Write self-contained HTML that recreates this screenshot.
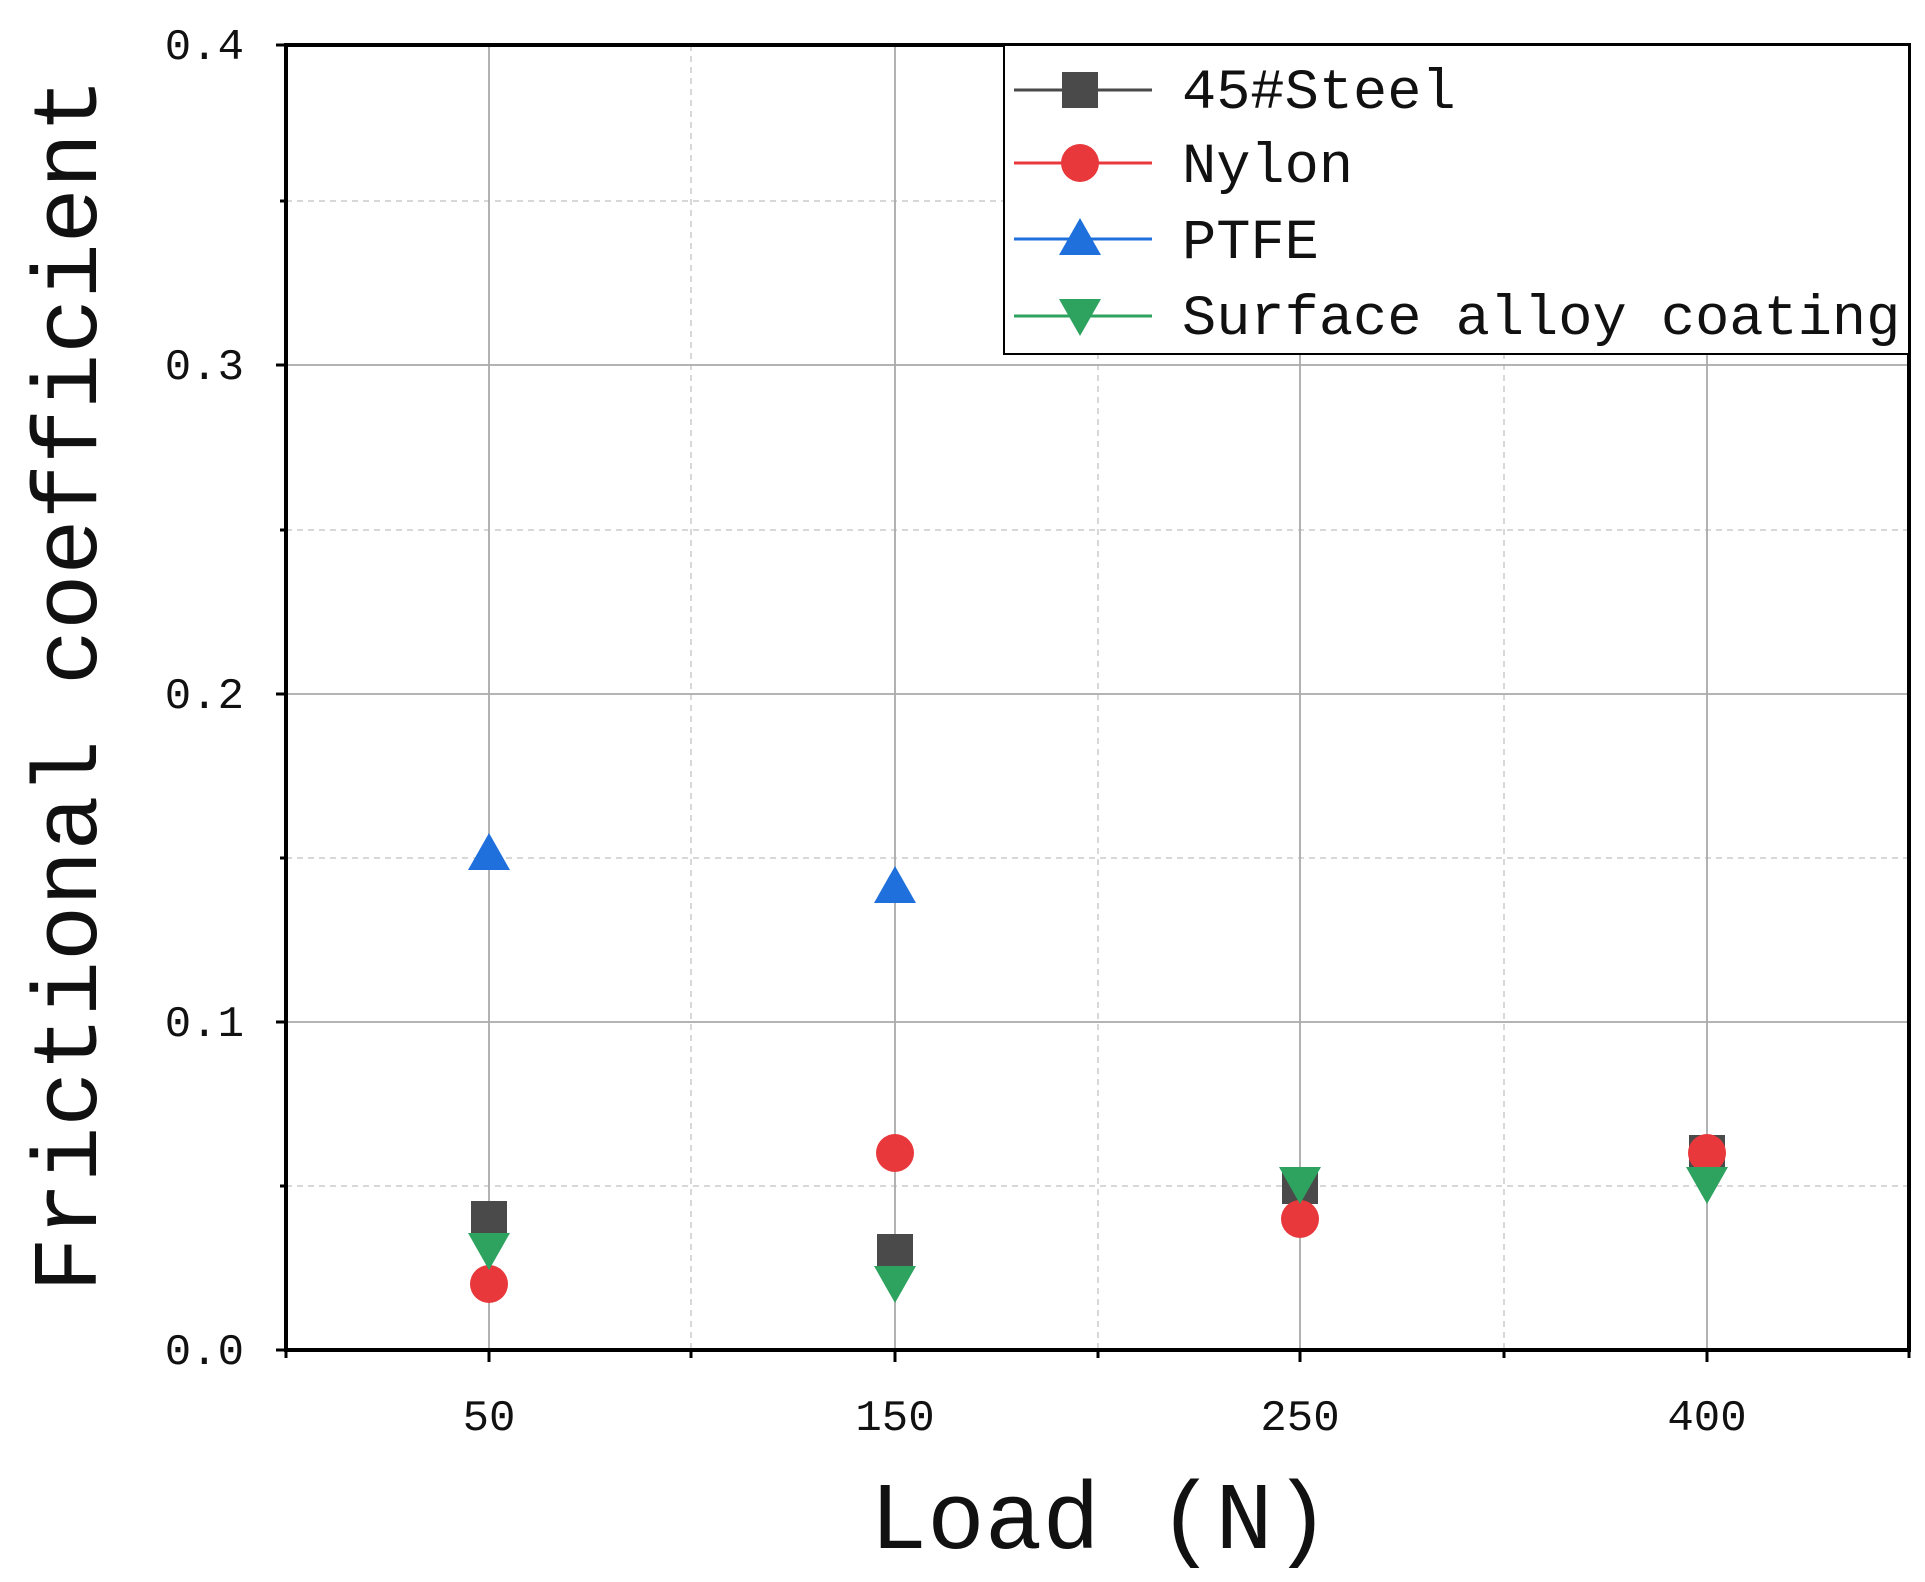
<!DOCTYPE html><html><head><style>body{margin:0;background:#fff}</style></head><body>
<svg width="1925" height="1577" xmlns="http://www.w3.org/2000/svg" font-family="Liberation Mono, monospace">
<rect width="1925" height="1577" fill="#fff"/>
<g stroke="#ccc" stroke-width="1.5" stroke-dasharray="6,5">
<line x1="286" x2="1909" y1="1186" y2="1186"/><line x1="286" x2="1909" y1="858" y2="858"/><line x1="286" x2="1909" y1="530" y2="530"/><line x1="286" x2="1909" y1="201" y2="201"/>
<line x1="691" x2="691" y1="45" y2="1350"/><line x1="1098" x2="1098" y1="45" y2="1350"/><line x1="1504" x2="1504" y1="45" y2="1350"/>
</g>
<g stroke="#aaa" stroke-width="1.8">
<line x1="286" x2="1909" y1="1022" y2="1022"/><line x1="286" x2="1909" y1="694" y2="694"/><line x1="286" x2="1909" y1="365" y2="365"/>
<line x1="489" x2="489" y1="45" y2="1350"/><line x1="895" x2="895" y1="45" y2="1350"/><line x1="1300" x2="1300" y1="45" y2="1350"/><line x1="1707" x2="1707" y1="45" y2="1350"/>
</g>
<rect x="286" y="45" width="1623" height="1305" fill="none" stroke="#000" stroke-width="4"/>
<g stroke="#000" stroke-width="3">
<line x1="286" x2="276" y1="1350" y2="1350"/><line x1="286" x2="276" y1="1022" y2="1022"/><line x1="286" x2="276" y1="694" y2="694"/><line x1="286" x2="276" y1="365" y2="365"/><line x1="286" x2="276" y1="45" y2="45"/>
<line x1="286" x2="280" y1="1186" y2="1186"/><line x1="286" x2="280" y1="858" y2="858"/><line x1="286" x2="280" y1="530" y2="530"/><line x1="286" x2="280" y1="201" y2="201"/>
<line x1="489" x2="489" y1="1350" y2="1362"/><line x1="895" x2="895" y1="1350" y2="1362"/><line x1="1300" x2="1300" y1="1350" y2="1362"/><line x1="1707" x2="1707" y1="1350" y2="1362"/>
<line x1="286" x2="286" y1="1350" y2="1358"/><line x1="691" x2="691" y1="1350" y2="1358"/><line x1="1098" x2="1098" y1="1350" y2="1358"/><line x1="1504" x2="1504" y1="1350" y2="1358"/><line x1="1909" x2="1909" y1="1350" y2="1358"/>
</g>
<g font-size="44" text-anchor="end" fill="#111">
<text x="244" y="1364">0.0</text><text x="244" y="1036">0.1</text><text x="244" y="708">0.2</text><text x="244" y="379">0.3</text><text x="244" y="59">0.4</text>
</g>
<g font-size="44" text-anchor="middle" fill="#111">
<text x="489" y="1430">50</text><text x="895" y="1430">150</text><text x="1300" y="1430">250</text><text x="1707" y="1430">400</text>
</g>
<text x="1100" y="1548" font-size="96" text-anchor="middle" fill="#111">Load (N)</text>
<text transform="translate(96,685) rotate(-90)" font-size="92" text-anchor="middle" fill="#111">Frictional coefficient</text>
<!-- data -->
<g fill="#4a4a4a">
<rect x="471" y="1201" width="36" height="36"/><rect x="877" y="1234" width="36" height="36"/><rect x="1282" y="1168" width="36" height="36"/><rect x="1689" y="1135" width="36" height="36"/>
</g>
<g fill="#e8383b">
<circle cx="489" cy="1284" r="19"/><circle cx="895" cy="1153" r="19"/><circle cx="1300" cy="1219" r="19"/><circle cx="1707" cy="1153" r="19"/>
</g>
<g fill="#1f6fdc">
<polygon points="489,833 468,870 510,870"/><polygon points="895,866 874,903 916,903"/>
</g>
<g fill="#2ea35f">
<polygon points="489,1270 468,1233 510,1233"/><polygon points="895,1303 874,1266 916,1266"/><polygon points="1300,1204 1279,1167 1321,1167"/><polygon points="1707,1204 1686,1167 1728,1167"/>
</g>
<rect x="1004" y="45" width="905" height="309" fill="#fff" stroke="#000" stroke-width="2"/>
<line x1="1014" x2="1152" y1="90" y2="90" stroke="#4a4a4a" stroke-width="3"/><rect x="1062" y="72" width="36" height="36" fill="#4a4a4a"/>
<line x1="1014" x2="1152" y1="163" y2="163" stroke="#e8383b" stroke-width="3"/><circle cx="1080" cy="163" r="19" fill="#e8383b"/>
<line x1="1014" x2="1152" y1="239" y2="239" stroke="#1f6fdc" stroke-width="3"/><polygon points="1080,218 1059,255 1101,255" fill="#1f6fdc"/>
<line x1="1014" x2="1152" y1="316" y2="316" stroke="#2ea35f" stroke-width="3"/><polygon points="1080,336 1059,299 1101,299" fill="#2ea35f"/>
<g font-size="57" fill="#111">
<text x="1182" y="108">45#Steel</text><text x="1182" y="182">Nylon</text><text x="1182" y="258">PTFE</text><text x="1182" y="334">Surface alloy coating</text>
</g>
</svg>
</body></html>
